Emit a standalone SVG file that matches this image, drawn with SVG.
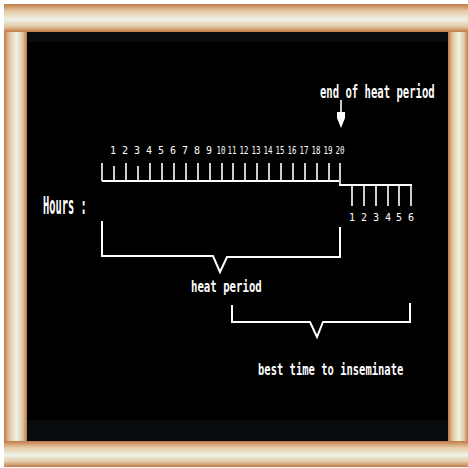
<svg xmlns="http://www.w3.org/2000/svg" width="468" height="468" viewBox="0 0 468 468">
<defs>
<linearGradient id="gh" x1="0" y1="0" x2="0" y2="1">
<stop offset="0" stop-color="#c07a48"/>
<stop offset="0.25" stop-color="#e6c9a4"/>
<stop offset="0.55" stop-color="#eef2e6"/>
<stop offset="0.8" stop-color="#e2c8a6"/>
<stop offset="1" stop-color="#c07a48"/>
</linearGradient>
<linearGradient id="gv" x1="0" y1="0" x2="1" y2="0">
<stop offset="0" stop-color="#c07a48"/>
<stop offset="0.25" stop-color="#e6c9a4"/>
<stop offset="0.55" stop-color="#eef2e6"/>
<stop offset="0.8" stop-color="#e2c8a6"/>
<stop offset="1" stop-color="#c07a48"/>
</linearGradient>
</defs>
<style>
.ln{stroke:#fff;stroke-width:2;fill:none}
.tk{stroke:#fff;stroke-width:1.6;fill:none}
.t{font-family:"DejaVu Sans Mono","Liberation Mono",monospace;font-weight:bold;fill:#fff}
.n{font-family:"DejaVu Sans Mono","Liberation Mono",monospace;font-size:10px;fill:#fff;text-anchor:middle}
</style>
<rect x="0" y="0" width="468" height="468" fill="#fff"/>
<g id="frame">
<rect x="27" y="32" width="421" height="409" fill="#000"/>
<rect x="27" y="32" width="421" height="10" fill="#0a0d10"/>
<rect x="27" y="420" width="421" height="21" fill="#090c0f"/>
<rect x="4" y="32" width="23" height="409" fill="url(#gv)"/>
<rect x="448" y="32" width="20" height="409" fill="url(#gv)"/>
<rect x="4" y="4" width="464" height="28" fill="url(#gh)"/>
<rect x="4" y="441" width="464" height="26" fill="url(#gh)"/>
</g>
<g id="labels">
<text class="t" font-size="10.6" transform="translate(320,98) scale(1,1.6)">end of heat period</text>
<text class="t" font-size="10.4" font-weight="normal" transform="translate(43,214) scale(1,2.3)">Hours :</text>
<text class="t" font-size="10.7" transform="translate(191,292) scale(1,1.5)">heat period</text>
<text class="t" font-size="10.5" transform="translate(258,375) scale(1,1.55)">best time to inseminate</text>
</g>
<g id="ruler">
<path class="ln" d="M102,181 H339 M339,185 H412"/>
<path class="tk" d="M102,163 V181 M114,166 V181 M126,163 V181 M138,166 V181 M150,163 V181 M162,163 V181 M174,163 V181 M186,163 V181 M198,163 V181 M210,163 V181 M222,163 V181 M233,163 V181 M245,163 V181 M257,163 V181 M269,163 V181 M281,163 V181 M293,163 V181 M305,163 V181 M317,163 V181 M329,163 V181 M340,163 V186"/>
<path class="tk" d="M352,185 V206 M364,185 V206 M376,185 V206 M388,185 V206 M399,185 V206 M411,185 V206"/>
<g>
<text class="n" x="113" y="154">1</text>
<text class="n" x="125" y="154">2</text>
<text class="n" x="137" y="154">3</text>
<text class="n" x="149" y="154">4</text>
<text class="n" x="161" y="154">5</text>
<text class="n" x="173" y="154">6</text>
<text class="n" x="185" y="154">7</text>
<text class="n" x="197" y="154">8</text>
<text class="n" x="209" y="154">9</text>
<text class="n" x="221" y="154" textLength="9" lengthAdjust="spacingAndGlyphs">10</text>
<text class="n" x="232" y="154" textLength="9" lengthAdjust="spacingAndGlyphs">11</text>
<text class="n" x="244" y="154" textLength="9" lengthAdjust="spacingAndGlyphs">12</text>
<text class="n" x="256" y="154" textLength="9" lengthAdjust="spacingAndGlyphs">13</text>
<text class="n" x="268" y="154" textLength="9" lengthAdjust="spacingAndGlyphs">14</text>
<text class="n" x="280" y="154" textLength="9" lengthAdjust="spacingAndGlyphs">15</text>
<text class="n" x="292" y="154" textLength="9" lengthAdjust="spacingAndGlyphs">16</text>
<text class="n" x="304" y="154" textLength="9" lengthAdjust="spacingAndGlyphs">17</text>
<text class="n" x="316" y="154" textLength="9" lengthAdjust="spacingAndGlyphs">18</text>
<text class="n" x="328" y="154" textLength="9" lengthAdjust="spacingAndGlyphs">19</text>
<text class="n" x="340" y="154" textLength="9" lengthAdjust="spacingAndGlyphs">20</text>
</g>
<g>
<text class="n" x="352" y="221">1</text>
<text class="n" x="364" y="221">2</text>
<text class="n" x="376" y="221">3</text>
<text class="n" x="388" y="221">4</text>
<text class="n" x="399" y="221">5</text>
<text class="n" x="411" y="221">6</text>
</g>
</g>
<g id="connectors">
<path class="tk" d="M341,100 V114"/>
<polygon points="337,112 345,112 345,118 341,128 337,118" fill="#fff"/>
<path class="ln" d="M102,221 V256 H213 L220,272 L227,257 H340 V227"/>
<path class="ln" d="M232,305 V322 H310 L317,337 L323,322 H410 V303"/>
</g>
</svg>
